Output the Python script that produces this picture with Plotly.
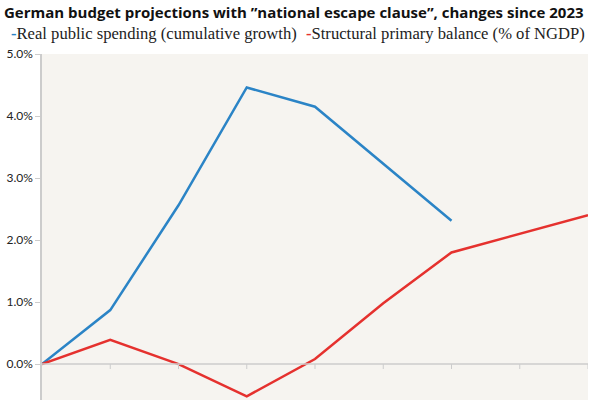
import plotly.graph_objects as go

years = ["2023", "2024", "2025", "2026", "2027", "2028", "2029", "2030", "2031"]
spending = [0.0, 0.87, 2.56, 4.46, 4.15, 3.23, 2.31, None, None]
balance = [0.0, 0.39, 0.0, -0.52, 0.08, 0.98, 1.80, 2.10, 2.40]
y_ticks = [0, 1, 2, 3, 4, 5]
y_labels = ["0.0%", "1.0%", "2.0%", "3.0%", "4.0%", "5.0%"]

blue = "#2b84c6"
red = "#e5312e"

fig = go.Figure()
fig.add_trace(go.Scatter(x=list(range(len(years))), y=spending, mode="lines",
                         line=dict(color=blue, width=2.5), name="Real public spending (cumulative growth)",
                         connectgaps=False))
fig.add_trace(go.Scatter(x=list(range(len(years))), y=balance, mode="lines",
                         line=dict(color=red, width=2.5), name="Structural primary balance (% of NGDP)"))

fig.update_layout(
    width=600, height=400,
    margin=dict(l=42, r=12, t=54, b=0, autoexpand=False),
    paper_bgcolor="white",
    plot_bgcolor="#f6f4f0",
    showlegend=False,
    xaxis=dict(range=[0, 8], tickmode="array", tickvals=list(range(len(years))),
               ticktext=["" for _ in years], showgrid=False, zeroline=False,
               showline=False, ticks="", anchor="y", automargin=False),
    yaxis=dict(range=[-0.58, 5.0], tickmode="array", tickvals=y_ticks, ticktext=y_labels,
               showgrid=False, zeroline=False, showline=True, linecolor="#cccccc", linewidth=1.5,
               ticks="outside", ticklen=5, tickcolor="#cccccc", automargin=False,
               tickfont=dict(family="Lato", size=12, color="#222")),
    font=dict(family="Lato"),
)

# x axis baseline at zero with ticks
fig.add_hline(y=0, line=dict(color="#cccccc", width=1.5))
for i in range(1, len(years)):
    fig.add_shape(type="line", xref="x", yref="y", x0=i, x1=i, y0=0, y1=-0.08,
                  line=dict(color="#cccccc", width=1))

fig.add_annotation(xref="paper", yref="paper", x=(2-42)/546, y=(400-12)/346, xanchor="left", yanchor="middle",
                   text="<b>German budget projections with ”national escape clause”, changes since 2023</b>",
                   showarrow=False, font=dict(family="Open Sans", size=15, color="#111"))
fig.add_annotation(xref="paper", yref="paper", x=(9-42)/546, y=(400-34)/346, xanchor="left", yanchor="middle",
                   text=f"<span style='color:{blue}'><b>-</b></span>Real public spending (cumulative growth)",
                   showarrow=False, font=dict(family="Liberation Serif", size=16.6, color="#222"))
fig.add_annotation(xref="paper", yref="paper", x=(304-42)/546, y=(400-34)/346, xanchor="left", yanchor="middle",
                   text=f"<span style='color:{red}'><b>-</b></span>Structural primary balance (% of NGDP)",
                   showarrow=False, font=dict(family="Liberation Serif", size=16.6, color="#222"))

fig.write_html("out.html", config={"displayModeBar": False},
               post_script="document.body.style.margin='0';")
